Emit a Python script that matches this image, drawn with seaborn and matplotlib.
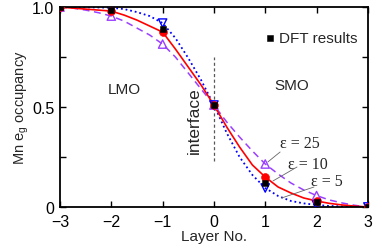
import numpy as np
import pandas as pd
import seaborn as sns
import matplotlib.pyplot as plt

# layer positions and occupancies
layers = [-3, -2, -1, 0, 1, 2, 3]
dft = [1.0, 0.985, 0.89, 0.51, 0.12, 0.025, 0.0]
eps10_pts = [1.0, 0.98, 0.875, 0.51, 0.15, 0.03, 0.0]
eps25_pts = [1.0, 0.955, 0.815, 0.51, 0.215, 0.057, 0.0]
eps5_pts = [1.0, 0.998, 0.92, 0.51, 0.095, 0.01, 0.0]

# model curves, read at quarter-layer spacing
curve_x = [-3, -2.75, -2.5, -2.25, -2, -1.75, -1.5, -1.25, -1, -0.75, -0.5, -0.25,
           0, 0.25, 0.5, 0.75, 1, 1.25, 1.5, 1.75, 2, 2.25, 2.5, 2.75, 3]
eps10_curve = [1.0, 0.995, 0.99, 0.985, 0.98, 0.96, 0.935, 0.905, 0.875, 0.79, 0.70, 0.61,
               0.51, 0.40, 0.30, 0.21, 0.15, 0.10, 0.07, 0.045, 0.03, 0.018, 0.01, 0.004, 0.0]
eps25_curve = [1.0, 0.995, 0.985, 0.972, 0.955, 0.93, 0.895, 0.86, 0.815, 0.75, 0.67, 0.59,
               0.51, 0.425, 0.35, 0.28, 0.215, 0.165, 0.12, 0.085, 0.057, 0.035, 0.02, 0.008, 0.0]
eps5_curve = [1.0, 1.0, 0.999, 0.998, 0.997, 0.99, 0.975, 0.955, 0.92, 0.845, 0.745, 0.635,
              0.51, 0.37, 0.25, 0.16, 0.095, 0.055, 0.03, 0.018, 0.01, 0.005, 0.003, 0.001, 0.0]

# curve labels: text position and leader line (curve end, text end)
eps_labels = ["\u03b5 = 25", "\u03b5 = 10", "\u03b5 = 5"]
label_xy = [(1.68, 0.32), (1.83, 0.215), (2.2, 0.13)]
leader_from = [(1.05, 0.225), (1.15, 0.13), (1.32, 0.045)]
leader_to = [(1.29, 0.275), (1.62, 0.20), (1.95, 0.10)]

red = "#ff0000"
blue = "#0000ff"
purple = "#9a40ff"

sns.set_style("ticks")
plt.rcParams["font.family"] = ["Liberation Sans", "DejaVu Sans"]
plt.rcParams["mathtext.default"] = "regular"

fig = plt.figure(figsize=(3.82, 2.53), dpi=100)
ax = fig.add_axes([0.157, 0.178, 0.806, 0.79])

curves = pd.DataFrame({"x": curve_x, "e25": eps25_curve, "e5": eps5_curve, "e10": eps10_curve})
sns.lineplot(data=curves, x="x", y="e25", ax=ax, color=purple, lw=1.1,
             linestyle=(0, (4.5, 3)))
sns.lineplot(data=curves, x="x", y="e5", ax=ax, color=blue, lw=1.3, linestyle=(0, (1, 1.6)))
sns.lineplot(data=curves, x="x", y="e10", ax=ax, color=red, lw=1.2)

pts = pd.DataFrame({"x": layers, "dft": dft, "e10": eps10_pts, "e25": eps25_pts, "e5": eps5_pts})
sns.scatterplot(data=pts, x="x", y="e25", ax=ax, marker="^", s=36, facecolor="none",
                edgecolor=purple, linewidth=1.0, zorder=4)
sns.scatterplot(data=pts, x="x", y="e5", ax=ax, marker="v", s=36, facecolor="none",
                edgecolor=blue, linewidth=1.0, zorder=4)
sns.scatterplot(data=pts, x="x", y="e10", ax=ax, marker="o", s=32, color=red,
                edgecolor=red, zorder=5)
sns.scatterplot(data=pts, x="x", y="dft", ax=ax, marker="s", s=22, color="black",
                edgecolor="black", zorder=6, label="DFT results")

# interface marker
ax.plot([0, 0], [0.23, 0.75], color="0.35", lw=0.9, ls=(0, (2.5, 2)))

ax.set_xlim(-3, 3)
ax.set_ylim(0, 1)
ax.set_xticks(layers)
ax.set_xticklabels(["\u22123", "\u22122", "\u22121", "0", "1", "2", "3"])
ax.set_yticks([0, 0.25, 0.5, 0.75, 1.0])
ax.set_yticklabels(["0", "", "0.5", "", "1.0"])
ax.tick_params(direction="in", top=True, right=True, length=4.5, width=1.0,
               labelsize=11.5, colors="black")
ax.tick_params(axis="x", pad=5)
ax.tick_params(axis="y", pad=4)
for sp in ax.spines.values():
    sp.set_visible(True)
    sp.set_linewidth(1.3)
    sp.set_color("black")

ax.set_xlabel("Layer No.", fontsize=11, labelpad=0)
ax.set_ylabel("Mn e$_g$ occupancy", fontsize=10.5, labelpad=1)

ax.text(-1.75, 0.59, "LMO", fontsize=11, ha="center", va="center")
ax.text(1.52, 0.61, "SMO", fontsize=11, ha="center", va="center")
ax.text(-0.39, 0.435, "interface", fontsize=12.5, ha="center", va="center", rotation=90)

serif = ["Liberation Serif", "DejaVu Serif"]
for lab, (tx, ty), (x0, y0), (x1, y1) in zip(eps_labels, label_xy, leader_from, leader_to):
    ax.text(tx, ty, lab, fontsize=11.5, family=serif, ha="center", va="center")
    ax.plot([x0, x1], [y0, y1], color="0.4", lw=0.6, zorder=3)

ax.legend(loc="upper right", bbox_to_anchor=(1.0, 0.935), frameon=False, fontsize=11,
          handletextpad=0.1, handlelength=1.0, borderaxespad=0.3)

fig.savefig("out.png", dpi=100)
